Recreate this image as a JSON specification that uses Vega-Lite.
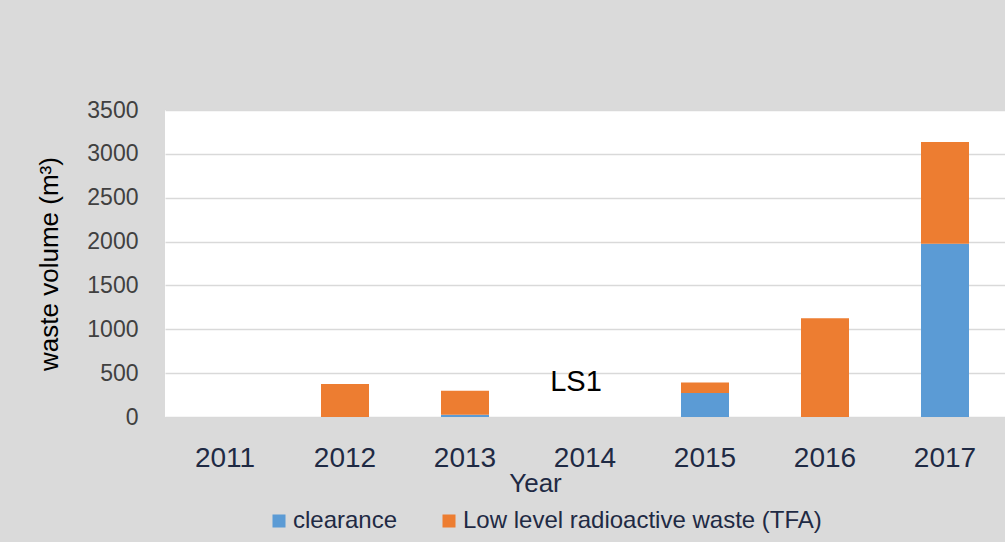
{
  "$schema": "https://vega.github.io/schema/vega-lite/v6.json",
  "width": 840,
  "height": 307,
  "autosize": {"type": "none"},
  "padding": {"left": 165, "top": 110, "right": 0, "bottom": 125},
  "background": "#dadada",
  "config": {
    "view": {"fill": "white", "stroke": null},
    "font": "Liberation Sans"
  },
  "layer": [
    {
      "data": {
        "values": [
          {"year": "2011", "type": "clearance", "volume": 0},
          {"year": "2011", "type": "Low level radioactive waste (TFA)", "volume": 0},
          {"year": "2012", "type": "clearance", "volume": 0},
          {"year": "2012", "type": "Low level radioactive waste (TFA)", "volume": 375},
          {"year": "2013", "type": "clearance", "volume": 25},
          {"year": "2013", "type": "Low level radioactive waste (TFA)", "volume": 275},
          {"year": "2014", "type": "clearance", "volume": 0},
          {"year": "2014", "type": "Low level radioactive waste (TFA)", "volume": 0},
          {"year": "2015", "type": "clearance", "volume": 275},
          {"year": "2015", "type": "Low level radioactive waste (TFA)", "volume": 118},
          {"year": "2016", "type": "clearance", "volume": 0},
          {"year": "2016", "type": "Low level radioactive waste (TFA)", "volume": 1125},
          {"year": "2017", "type": "clearance", "volume": 1975},
          {"year": "2017", "type": "Low level radioactive waste (TFA)", "volume": 1160}
        ]
      },
      "mark": {"type": "bar"},
      "encoding": {
        "x": {
          "field": "year",
          "type": "ordinal",
          "scale": {"paddingInner": 0.6, "paddingOuter": 0.3},
          "axis": {
            "title": "Year",
            "labelAngle": 0,
            "labelFontSize": 28,
            "labelColor": "#1f2a44",
            "labelPadding": 27,
            "ticks": false,
            "domain": false,
            "titleFontSize": 26,
            "titleFontWeight": "normal",
            "titleColor": "#1f2a44",
            "titleX": 370,
            "titleY": 74,
            "titleAnchor": "middle",
            "titleAlign": "center",
            "titleBaseline": "alphabetic"
          }
        },
        "y": {
          "field": "volume",
          "type": "quantitative",
          "stack": "zero",
          "scale": {"domain": [0, 3500], "nice": false},
          "axis": {
            "title": "waste volume (m³)",
            "values": [0, 500, 1000, 1500, 2000, 2500, 3000, 3500],
            "format": "d",
            "labelFontSize": 23,
            "labelColor": "#404040",
            "labelPadding": 27,
            "ticks": false,
            "domain": false,
            "grid": true,
            "gridColor": "#d9d9d9",
            "gridWidth": 1.5,
            "titleFontSize": 26,
            "titleFontWeight": "normal",
            "titleColor": "#000000",
            "titlePadding": 24
          }
        },
        "color": {
          "field": "type",
          "type": "nominal",
          "scale": {
            "domain": ["clearance", "Low level radioactive waste (TFA)"],
            "range": ["#5b9bd5", "#ed7d31"]
          },
          "legend": {
            "title": null,
            "orient": "none",
            "direction": "horizontal",
            "legendX": 102,
            "legendY": 399,
            "symbolType": "square",
            "symbolSize": 169,
            "symbolStrokeWidth": 0,
            "labelFontSize": 24,
            "labelColor": "#1f2a44",
            "labelOffset": 2,
            "columnPadding": 39,
            "padding": 0,
            "labelLimit": 500
          }
        },
        "order": {"field": "type", "sort": "descending"}
      }
    },
    {
      "data": {"values": [{"year": "2014", "volume": 397, "label": "LS1"}]},
      "mark": {"type": "text", "fontSize": 29, "color": "#000000", "dx": -9, "baseline": "middle", "align": "center"},
      "encoding": {
        "x": {"field": "year", "type": "ordinal"},
        "y": {"field": "volume", "type": "quantitative"},
        "text": {"field": "label"}
      }
    }
  ]
}
